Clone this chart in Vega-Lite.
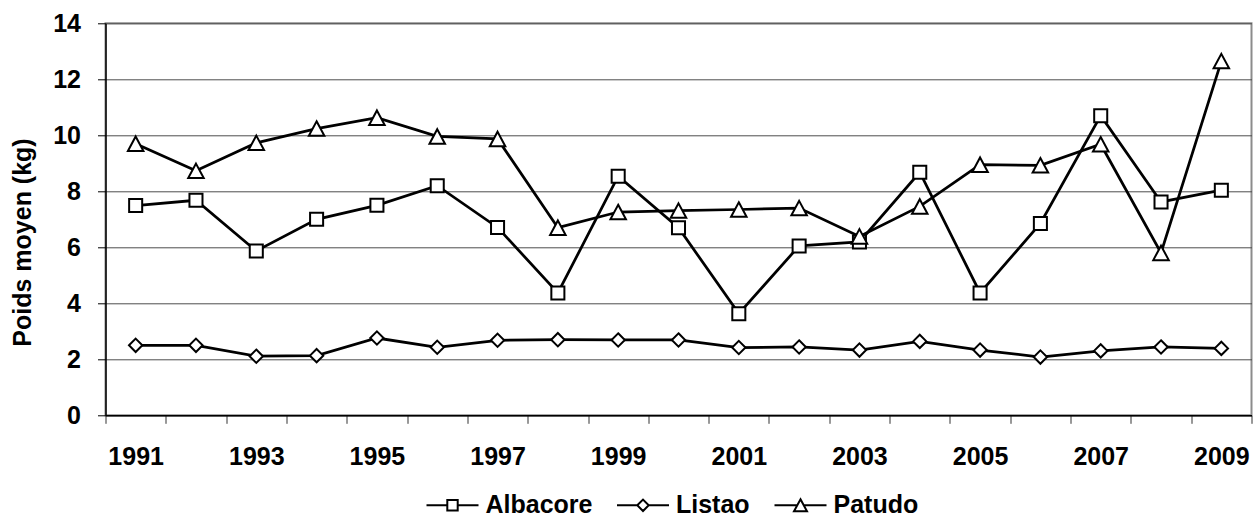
{
  "$schema": "https://vega.github.io/schema/vega-lite/v6.json",
  "width": 1146,
  "height": 392,
  "autosize": "none",
  "padding": {"left": 105.5, "top": 23.3, "right": 2.5, "bottom": 101.7},
  "background": "white",
  "config": {
    "view": {"stroke": "#8c8c8c", "strokeWidth": 2},
    "font": "Liberation Sans"
  },
  "data": {
    "values": [
      {"year": 1991, "species": "Albacore", "value": 7.49},
      {"year": 1992, "species": "Albacore", "value": 7.68},
      {"year": 1993, "species": "Albacore", "value": 5.87},
      {"year": 1994, "species": "Albacore", "value": 7.0},
      {"year": 1995, "species": "Albacore", "value": 7.5},
      {"year": 1996, "species": "Albacore", "value": 8.2},
      {"year": 1997, "species": "Albacore", "value": 6.71},
      {"year": 1998, "species": "Albacore", "value": 4.37},
      {"year": 1999, "species": "Albacore", "value": 8.54},
      {"year": 2000, "species": "Albacore", "value": 6.7},
      {"year": 2001, "species": "Albacore", "value": 3.63},
      {"year": 2002, "species": "Albacore", "value": 6.05},
      {"year": 2003, "species": "Albacore", "value": 6.19},
      {"year": 2004, "species": "Albacore", "value": 8.68},
      {"year": 2005, "species": "Albacore", "value": 4.37},
      {"year": 2006, "species": "Albacore", "value": 6.85},
      {"year": 2007, "species": "Albacore", "value": 10.7},
      {"year": 2008, "species": "Albacore", "value": 7.62},
      {"year": 2009, "species": "Albacore", "value": 8.04},
      {"year": 1991, "species": "Listao", "value": 2.5},
      {"year": 1992, "species": "Listao", "value": 2.5},
      {"year": 1993, "species": "Listao", "value": 2.11},
      {"year": 1994, "species": "Listao", "value": 2.13},
      {"year": 1995, "species": "Listao", "value": 2.76},
      {"year": 1996, "species": "Listao", "value": 2.43},
      {"year": 1997, "species": "Listao", "value": 2.68},
      {"year": 1998, "species": "Listao", "value": 2.7},
      {"year": 1999, "species": "Listao", "value": 2.69},
      {"year": 2000, "species": "Listao", "value": 2.69},
      {"year": 2001, "species": "Listao", "value": 2.42},
      {"year": 2002, "species": "Listao", "value": 2.44},
      {"year": 2003, "species": "Listao", "value": 2.33},
      {"year": 2004, "species": "Listao", "value": 2.64},
      {"year": 2005, "species": "Listao", "value": 2.33},
      {"year": 2006, "species": "Listao", "value": 2.08},
      {"year": 2007, "species": "Listao", "value": 2.3},
      {"year": 2008, "species": "Listao", "value": 2.44},
      {"year": 2009, "species": "Listao", "value": 2.39},
      {"year": 1991, "species": "Patudo", "value": 9.7},
      {"year": 1992, "species": "Patudo", "value": 8.73},
      {"year": 1993, "species": "Patudo", "value": 9.73},
      {"year": 1994, "species": "Patudo", "value": 10.24},
      {"year": 1995, "species": "Patudo", "value": 10.63},
      {"year": 1996, "species": "Patudo", "value": 9.96},
      {"year": 1997, "species": "Patudo", "value": 9.87},
      {"year": 1998, "species": "Patudo", "value": 6.7},
      {"year": 1999, "species": "Patudo", "value": 7.26},
      {"year": 2000, "species": "Patudo", "value": 7.31},
      {"year": 2001, "species": "Patudo", "value": 7.35},
      {"year": 2002, "species": "Patudo", "value": 7.4},
      {"year": 2003, "species": "Patudo", "value": 6.39},
      {"year": 2004, "species": "Patudo", "value": 7.46},
      {"year": 2005, "species": "Patudo", "value": 8.95},
      {"year": 2006, "species": "Patudo", "value": 8.93},
      {"year": 2007, "species": "Patudo", "value": 9.68},
      {"year": 2008, "species": "Patudo", "value": 5.8},
      {"year": 2009, "species": "Patudo", "value": 12.65}
    ]
  },
  "encoding": {
    "x": {
      "field": "year",
      "type": "ordinal",
      "scale": {"type": "band", "paddingInner": 0, "paddingOuter": 0},
      "axis": {
        "title": null,
        "tickBand": "extent",
        "labelAngle": 0,
        "labelOverlap": false,
        "labelExpr": "(datum.value - 1991) % 2 == 0 ? datum.label : ''",
        "labelFont": "Liberation Sans",
        "labelFontSize": 25,
        "labelFontWeight": "bold",
        "labelColor": "black",
        "labelPadding": 21.5,
        "domainColor": "black",
        "domainWidth": 1.5,
        "tickColor": "#333333",
        "tickSize": 8,
        "tickWidth": 1,
        "grid": false
      }
    },
    "y": {
      "field": "value",
      "type": "quantitative",
      "scale": {"domain": [0, 14], "nice": false, "zero": true},
      "axis": {
        "values": [0, 2, 4, 6, 8, 10, 12, 14],
        "title": "Poids moyen (kg)",
        "titleFont": "Liberation Sans",
        "titleFontSize": 25,
        "titleFontWeight": "bold",
        "titleColor": "black",
        "titleAngle": 270,
        "titleAlign": "center",
        "titleBaseline": "alphabetic",
        "titleX": -74.8,
        "titleY": 218.7,
        "labelFont": "Liberation Sans",
        "labelFontSize": 25,
        "labelFontWeight": "bold",
        "labelColor": "black",
        "labelPadding": 17,
        "domainColor": "black",
        "domainWidth": 1.5,
        "tickColor": "black",
        "tickSize": 8,
        "tickWidth": 1,
        "grid": true,
        "gridColor": "#4d4d4d",
        "gridWidth": 1
      }
    }
  },
  "layer": [
    {
      "mark": {"type": "line", "color": "black", "strokeWidth": 2.75},
      "encoding": {"detail": {"field": "species"}}
    },
    {
      "transform": [{"filter": "datum.species === 'Albacore'"}],
      "mark": {"type": "point", "shape": "M-0.9,-0.9H0.9V0.9H-0.9Z", "filled": true, "fill": "white", "stroke": "black", "strokeWidth": 2, "size": 210, "opacity": 1},
      "encoding": {}
    },
    {
      "transform": [{"filter": "datum.species === 'Listao'"}],
      "mark": {"type": "point", "shape": "M0,-0.92L0.92,0L0,0.92L-0.92,0Z", "filled": true, "fill": "white", "stroke": "black", "strokeWidth": 2, "size": 210, "opacity": 1},
      "encoding": {}
    },
    {
      "transform": [{"filter": "datum.species === 'Patudo'"}],
      "mark": {"type": "point", "shape": "M0,-1L1.07,1L-1.07,1Z", "filled": true, "fill": "white", "stroke": "black", "strokeWidth": 2, "size": 210, "opacity": 1},
      "encoding": {}
    },
    {
      "transform": [{"filter": "datum.year < 0"}],
      "mark": {"type": "point", "filled": false, "color": "black", "strokeWidth": 2, "size": 2704, "opacity": 1},
      "encoding": {
        "shape": {
          "field": "species",
          "type": "nominal",
          "scale": {
            "domain": ["Albacore", "Listao", "Patudo"],
            "range": [
              "M-1,0H-0.2M0.2,0H1M-0.2,-0.2H0.2V0.2H-0.2Z",
              "M-1,0H-0.22M0.22,0H1M-0.22,0L0,-0.22L0.22,0L0,0.22Z",
              "M-1,0H-0.12M0.12,0H1M0,-0.23L0.25,0.23L-0.25,0.23Z"
            ]
          },
          "legend": {
            "orient": "none",
            "legendX": 320,
            "legendY": 455,
            "direction": "horizontal",
            "title": null,
            "padding": 0,
            "labelFont": "Liberation Sans",
            "labelFontSize": 25,
            "labelFontWeight": "bold",
            "labelColor": "black",
            "labelOffset": 6,
            "columnPadding": 20.5,
            "symbolSize": 2704,
            "symbolStrokeWidth": 2,
            "symbolStrokeColor": "black",
            "symbolOpacity": 1
          }
        }
      }
    }
  ]
}
